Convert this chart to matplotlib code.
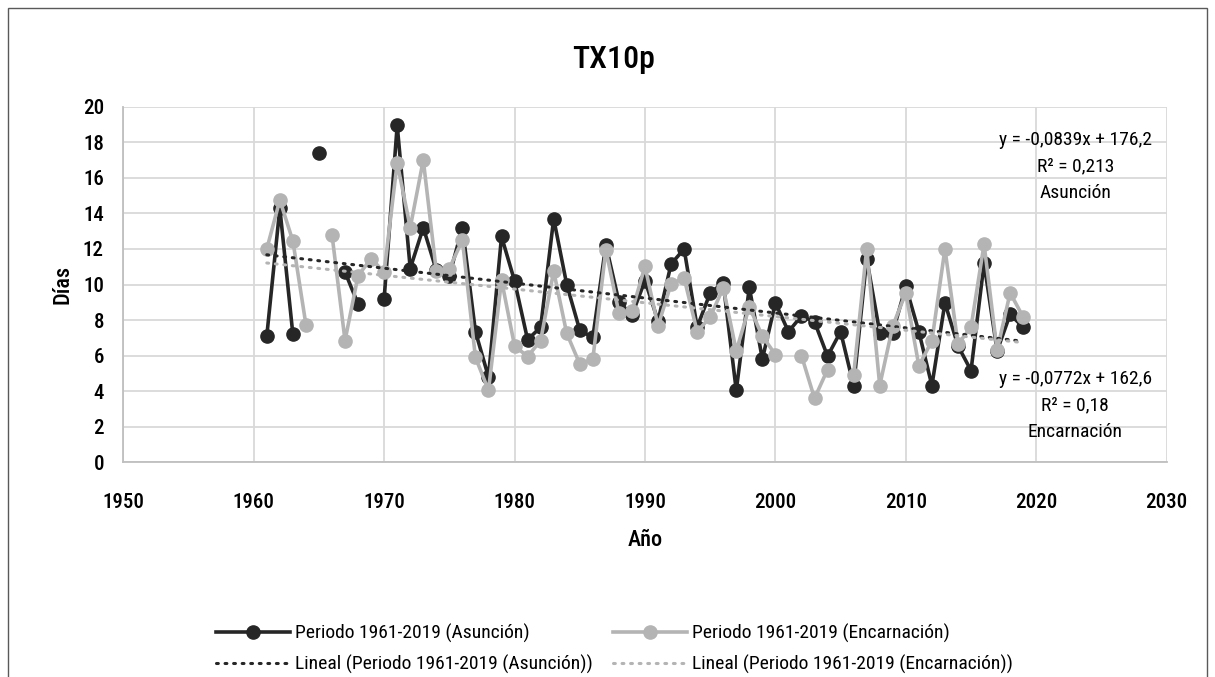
import numpy as np
import matplotlib
matplotlib.use("Agg")
import matplotlib.pyplot as plt
from matplotlib.patches import Rectangle

plt.rcParams['font.family'] = ['Roboto Condensed', 'DejaVu Sans']
plt.rcParams['font.stretch'] = 'condensed'

# datos (nan = sin dato)
anios = np.arange(1961, 2020)
nan = np.nan
asuncion = [7.1, 14.3, 7.2, nan, 17.4, nan, 10.7, 8.9, nan, 9.2,
            18.95, 10.9, 13.2, 10.8, 10.5, 13.2, 7.35, 4.8, 12.7, 10.2,
            6.9, 7.6, 13.7, 10.0, 7.43, 7.02, 12.23, 9.03, 8.28, 10.22,
            7.95, 11.15, 12.0, 7.6, 9.53, 10.09, 4.04, 9.85, 5.8, 8.97,
            7.35, 8.23, 7.9, 5.97, 7.35, 4.3, 11.45, 7.3, 7.3, 9.9,
            7.35, 4.32, 8.97, 6.55, 5.16, 11.2, 6.27, 8.32, 7.6]
encarnacion = [12.0, 14.75, 12.45, 7.75, nan, 12.8, 6.85, 10.5, 11.45, 10.7,
               16.85, 13.2, 17.0, 10.75, 10.9, 12.5, 5.9, 4.05, 10.25, 6.55,
               5.95, 6.85, 10.75, 7.25, 5.53, 5.8, 11.95, 8.4, 8.5, 11.02,
               7.67, 10.03, 10.37, 7.35, 8.17, 9.81, 6.27, 8.75, 7.1, 6.06,
               nan, 6.0, 3.6, 5.22, nan, 4.9, 12.0, 4.32, 7.67, 9.53,
               5.43, 6.83, 12.0, 6.65, 7.6, 12.27, 6.3, 9.53, 8.17]

# coeficientes de las lineas de tendencia (del grafico)
pend_a, orig_a, r2_a = -0.0839, 176.2, 0.213
pend_e, orig_e, r2_e = -0.0772, 162.6, 0.18

negro = '#262626'
gris = '#b4b4b4'

fig = plt.figure(figsize=(12.15, 6.77), dpi=100)
ax = fig.add_axes([0.1015, 0.3171, 0.8587, 0.5253])

l1, = ax.plot(anios, asuncion, '-o', color=negro, lw=2.6, ms=9.5, zorder=3,
              label='Periodo 1961-2019 (Asunción)')
l2, = ax.plot(anios, encarnacion, '-o', color=gris, lw=2.6, ms=9.5, zorder=4,
              label='Periodo 1961-2019 (Encarnación)')

xt = np.array([anios[0], anios[-1]])
l3, = ax.plot(xt, pend_a * xt + orig_a, color=negro, lw=2.2, ls=(0, (0.6, 2.2)),
              dash_capstyle='round', zorder=5,
              label='Lineal (Periodo 1961-2019 (Asunción))')
l4, = ax.plot(xt, pend_e * xt + orig_e, color=gris, lw=2.2, ls=(0, (0.6, 2.2)),
              dash_capstyle='round', zorder=5,
              label='Lineal (Periodo 1961-2019 (Encarnación))')

ax.set_xlim(1950, 2030)
ax.set_ylim(0, 20)
ax.set_xticks(np.arange(1950, 2031, 10))
ax.set_yticks(np.arange(0, 21, 2))
ax.grid(True, color='#d9d9d9', lw=1.3)
ax.set_axisbelow(True)
for s in ['top', 'right']:
    ax.spines[s].set_visible(False)
for s in ['left', 'bottom']:
    ax.spines[s].set_color('#bfbfbf')
    ax.spines[s].set_linewidth(1.3)
ax.tick_params(length=0, labelsize=15, pad=14, colors='black')
ax.tick_params(axis='x', pad=22)
for t in ax.get_xticklabels() + ax.get_yticklabels():
    t.set_fontweight('medium')

fig.text(614 / 1215, 1 - 60 / 677, 'TX10p', fontsize=23, fontweight='medium',
         ha='center', va='center')
ax.set_xlabel('Año', fontsize=16, labelpad=12, fontweight='medium')
ax.set_ylabel('Días', fontsize=16, labelpad=7, fontweight='medium')

def fmt(v):
    return ('%g' % v).replace('.', ',')

txt_a = 'y = -%sx + %s\nR² = %s\nAsunción' % (fmt(-pend_a), fmt(orig_a), fmt(r2_a))
txt_e = 'y = -%sx + %s\nR² = %s\nEncarnación' % (fmt(-pend_e), fmt(orig_e), fmt(r2_e))
ax.text(2023.0, 18.65, txt_a, ha='center', va='top', fontsize=14, linespacing=1.6)
ax.text(2023.0, 5.2, txt_e, ha='center', va='top', fontsize=14, linespacing=1.6)

fig.legend(handles=[l1, l3, l2, l4], ncol=2, loc='center left',
           bbox_to_anchor=(206 / 1215, 0.041), frameon=False, fontsize=14,
           borderpad=0, handlelength=3.8, columnspacing=1.0, handletextpad=0.3,
           labelspacing=0.6)

fig.patches.append(Rectangle((8 / 1215, -0.1), 1199 / 1215, 1.1 - 8 / 677,
                             transform=fig.transFigure, fill=False,
                             edgecolor='#595959', lw=1.0))

fig.savefig('out.png', dpi=100)
